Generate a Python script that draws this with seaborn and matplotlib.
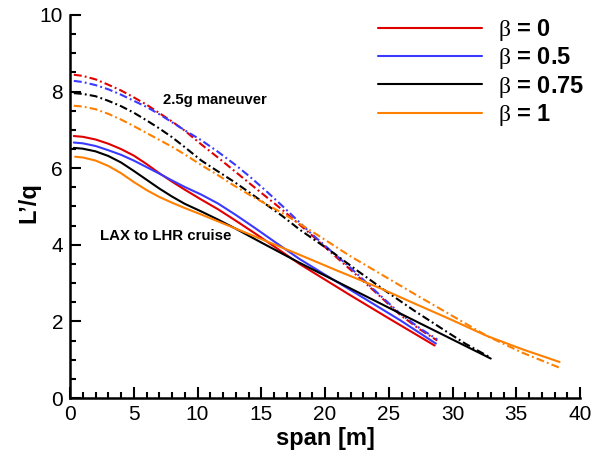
import matplotlib
matplotlib.use("Agg")
import matplotlib.pyplot as plt
import pandas as pd
import seaborn as sns
from matplotlib.lines import Line2D
from matplotlib.ticker import MultipleLocator

betas = ["0", "0.5", "0.75", "1"]
colors = ["#e00000", "#3a3aff", "#000000", "#ff8000"]

# Spanwise loading L'/q, LAX to LHR cruise
cruise_b0_x = [0.3, 1.0, 2.0, 3.0, 4.0, 5.0, 6.0, 7.0, 8.0, 9.0, 10.3, 11.6, 13.0, 14.5, 16.0, 18.0, 20.0, 22.0, 25.0, 28.6]
cruise_b0_y = [6.84, 6.82, 6.75, 6.64, 6.50, 6.33, 6.11, 5.87, 5.65, 5.44, 5.18, 4.93, 4.63, 4.30, 3.96, 3.50, 3.09, 2.68, 2.08, 1.37]

cruise_b05_x = [0.3, 1.0, 2.0, 3.0, 4.0, 5.0, 6.0, 7.0, 8.0, 9.0, 10.3, 11.6, 13.0, 14.5, 16.0, 18.0, 20.0, 22.0, 25.9, 28.7]
cruise_b05_y = [6.67, 6.65, 6.58, 6.47, 6.35, 6.20, 6.03, 5.86, 5.68, 5.51, 5.31, 5.08, 4.78, 4.44, 4.09, 3.63, 3.22, 2.82, 2.03, 1.42]

cruise_b075_x = [0.3, 1.0, 2.0, 3.0, 4.0, 5.0, 6.0, 7.0, 8.0, 9.0, 10.3, 11.6, 13.0, 15.0, 18.0, 22.0, 26.0, 29.8, 33.0]
cruise_b075_y = [6.53, 6.51, 6.44, 6.32, 6.15, 5.93, 5.70, 5.47, 5.26, 5.07, 4.87, 4.66, 4.42, 4.06, 3.53, 2.86, 2.19, 1.56, 1.03]

cruise_b1_x = [0.4, 1.0, 2.0, 3.0, 4.0, 5.0, 6.0, 7.0, 8.0, 9.0, 10.3, 12.5, 15.0, 18.0, 21.0, 24.3, 27.0, 29.8, 32.7, 35.5, 38.4]
cruise_b1_y = [6.30, 6.28, 6.20, 6.06, 5.87, 5.64, 5.43, 5.25, 5.10, 4.96, 4.79, 4.49, 4.15, 3.74, 3.32, 2.87, 2.47, 2.06, 1.62, 1.27, 0.94]

# Spanwise loading L'/q, 2.5g maneuver
man_b0_x = [0.3, 1.0, 2.0, 3.0, 4.0, 5.0, 6.0, 7.0, 8.0, 9.0, 10.3, 11.6, 13.0, 14.1, 15.4, 16.7, 18.8, 20.4, 22.0, 24.0, 25.9, 27.4, 28.8]
man_b0_y = [8.44, 8.41, 8.32, 8.18, 8.03, 7.85, 7.66, 7.44, 7.22, 6.98, 6.62, 6.28, 5.90, 5.60, 5.25, 4.90, 4.30, 3.82, 3.35, 2.75, 2.17, 1.80, 1.50]

man_b05_x = [0.3, 1.0, 2.0, 3.0, 4.0, 5.0, 6.0, 7.0, 8.0, 9.0, 10.3, 11.6, 13.0, 14.1, 15.4, 16.7, 17.8, 18.8, 20.4, 22.0, 24.0, 25.9, 27.4, 28.8]
man_b05_y = [8.28, 8.25, 8.17, 8.06, 7.92, 7.76, 7.60, 7.41, 7.20, 6.99, 6.73, 6.43, 6.08, 5.78, 5.40, 5.00, 4.65, 4.33, 3.86, 3.40, 2.78, 2.20, 1.83, 1.53]

man_b075_x = [0.3, 1.0, 2.0, 3.0, 4.0, 5.0, 6.0, 7.0, 8.0, 9.0, 10.3, 11.4, 12.8, 14.1, 15.4, 16.7, 18.0, 19.3, 20.65, 22.6, 24.6, 27.0, 29.5, 31.0, 33.0]
man_b075_y = [7.96, 7.94, 7.88, 7.76, 7.62, 7.45, 7.25, 7.04, 6.81, 6.55, 6.20, 5.96, 5.66, 5.36, 5.05, 4.74, 4.40, 4.10, 3.79, 3.31, 2.83, 2.28, 1.74, 1.42, 1.05]

man_b1_x = [0.3, 1.0, 2.0, 3.0, 4.0, 5.0, 6.0, 7.0, 8.0, 9.0, 10.3, 11.6, 12.8, 14.1, 15.4, 16.7, 18.0, 19.35, 20.7, 22.0, 24.3, 27.0, 29.8, 32.7, 35.5, 38.4]
man_b1_y = [7.63, 7.61, 7.54, 7.42, 7.27, 7.10, 6.92, 6.74, 6.56, 6.36, 6.08, 5.82, 5.56, 5.30, 5.06, 4.82, 4.55, 4.27, 3.98, 3.70, 3.25, 2.72, 2.18, 1.62, 1.18, 0.79]

series = [
    ("0", "cruise", cruise_b0_x, cruise_b0_y),
    ("0.5", "cruise", cruise_b05_x, cruise_b05_y),
    ("0.75", "cruise", cruise_b075_x, cruise_b075_y),
    ("1", "cruise", cruise_b1_x, cruise_b1_y),
    ("0", "maneuver", man_b0_x, man_b0_y),
    ("0.5", "maneuver", man_b05_x, man_b05_y),
    ("0.75", "maneuver", man_b075_x, man_b075_y),
    ("1", "maneuver", man_b1_x, man_b1_y),
]
frames = [pd.DataFrame({"span": xs, "Lq": ys, "beta": b, "case": c})
          for b, c, xs, ys in series]
df = pd.concat(frames, ignore_index=True)

sns.set_theme(style="ticks")
plt.rcParams.update({
    "font.family": ["Liberation Sans", "DejaVu Sans"],
    "mathtext.fontset": "custom",
    "mathtext.rm": "Liberation Serif",
    "text.color": "black",
    "axes.labelcolor": "black",
    "xtick.color": "black",
    "ytick.color": "black",
    "xtick.direction": "in",
    "ytick.direction": "in",
})

fig = plt.figure(figsize=(6.01, 4.57), dpi=100)
ax = fig.add_axes([70 / 601, 59 / 457, 510 / 601, 383 / 457])

sns.lineplot(
    data=df, x="span", y="Lq", hue="beta", style="case",
    hue_order=betas, palette=dict(zip(betas, colors)),
    style_order=["cruise", "maneuver"],
    dashes={"cruise": "", "maneuver": (3.8, 1.5, 0.9, 1.5)},
    estimator=None, sort=False, legend=False, linewidth=1.5, ax=ax,
)

ax.set_xlim(0, 40)
ax.set_ylim(0, 10)
ax.xaxis.set_major_locator(MultipleLocator(5))
ax.xaxis.set_minor_locator(MultipleLocator(1))
ax.yaxis.set_major_locator(MultipleLocator(2))
ax.yaxis.set_minor_locator(MultipleLocator(0.5))
ax.tick_params(which="both", direction="in", width=1.5, colors="black",
               labelsize=15, pad=5)
ax.tick_params(which="major", length=8)
ax.tick_params(which="minor", length=4.5)
sns.despine(ax=ax)
for s in ("left", "bottom"):
    ax.spines[s].set_linewidth(1.8)
    ax.spines[s].set_color("black")

ax.set_xlabel("span [m]", fontsize=17, fontweight="bold", labelpad=2)
ax.set_ylabel("L\u2019/q", fontsize=17, fontweight="bold")
ax.yaxis.set_label_coords(-0.058, 0.51)

ax.text(7.3, 7.77, "2.5g maneuver", fontsize=10.7, fontweight="bold",
        va="center", ha="left")
ax.text(2.35, 4.24, "LAX to LHR cruise", fontsize=10.8, fontweight="bold",
        va="center", ha="left")

handles = [Line2D([], [], color=c, lw=1.5) for c in colors]
labels = [rf"$\mathrm{{\beta}}$ = {b}" for b in betas]
leg = ax.legend(handles, labels, loc="upper left",
                bbox_to_anchor=(378 / 601, 1 - 17 / 457),
                bbox_transform=fig.transFigure, frameon=False,
                borderpad=0, borderaxespad=0, handlelength=4.4,
                handletextpad=0.7, labelspacing=0.1,
                prop={"size": 17, "weight": "bold"})

fig.savefig("out.png", dpi=100)
